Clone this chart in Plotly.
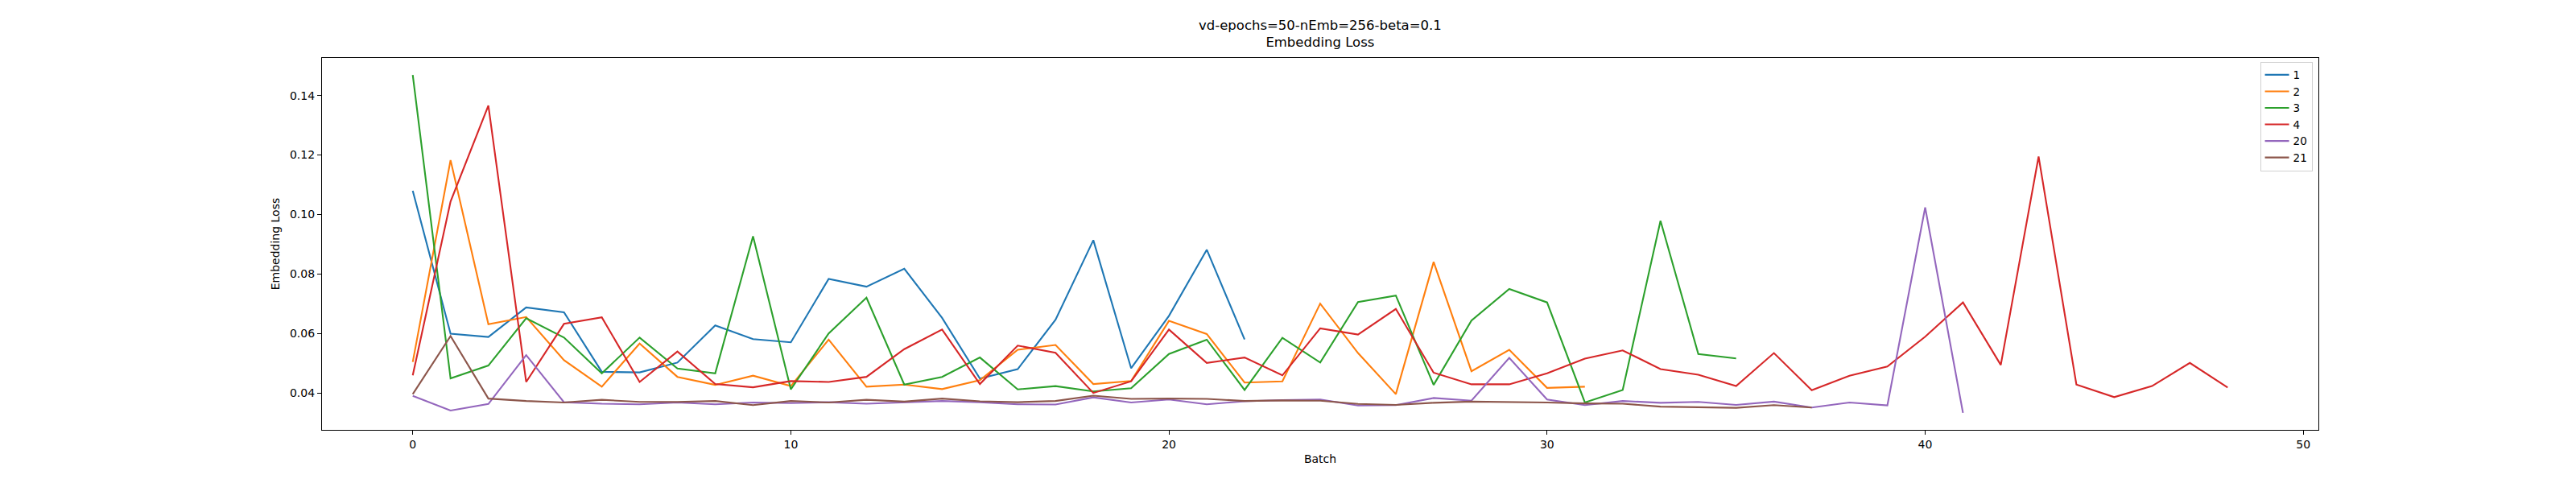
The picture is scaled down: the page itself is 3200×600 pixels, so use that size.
import plotly.graph_objects as go

# Embedding loss per batch, one list per run
labels = ["1", "2", "3", "4", "20", "21"]
colors = ["#1f77b4", "#ff7f0e", "#2ca02c", "#d62728", "#9467bd", "#8c564b"]

loss_1 = [0.108, 0.060, 0.0589, 0.0688, 0.0672, 0.0472, 0.0470, 0.0503, 0.0628, 0.0582,
          0.0571, 0.0784, 0.0758, 0.0818, 0.0653, 0.0449, 0.0481, 0.0647, 0.0914, 0.0484,
          0.0660, 0.0882, 0.0581]
loss_2 = [0.0505, 0.1183, 0.0632, 0.0656, 0.0511, 0.0422, 0.0567, 0.0455, 0.0428, 0.0459,
          0.0424, 0.0580, 0.0422, 0.0429, 0.0414, 0.0444, 0.0546, 0.0562, 0.0431, 0.0441,
          0.0643, 0.0599, 0.0436, 0.0440, 0.0701, 0.0535, 0.0397, 0.0841, 0.0474, 0.0546,
          0.0418, 0.0422]
loss_3 = [0.1469, 0.0450, 0.0493, 0.0652, 0.0587, 0.0467, 0.0587, 0.0483, 0.0467, 0.0927,
          0.0413, 0.0601, 0.0721, 0.0429, 0.0455, 0.0520, 0.0413, 0.0424, 0.0406, 0.0417,
          0.0532, 0.0580, 0.0411, 0.0586, 0.0503, 0.0706, 0.0728, 0.0428, 0.0644, 0.0750,
          0.0705, 0.0369, 0.0411, 0.0979, 0.0532, 0.0517]
loss_4 = [0.0460, 0.1044, 0.1366, 0.0438, 0.0633, 0.0655, 0.0438, 0.0540, 0.0431, 0.0420,
          0.0441, 0.0438, 0.0455, 0.0548, 0.0614, 0.0431, 0.0560, 0.0536, 0.0401, 0.0440,
          0.0614, 0.0502, 0.0520, 0.0460, 0.0618, 0.0597, 0.0683, 0.0469, 0.0430, 0.0430,
          0.0467, 0.0516, 0.0544, 0.0481, 0.0462, 0.0424, 0.0535, 0.0410, 0.0459, 0.0490,
          0.0590, 0.0705, 0.0495, 0.1195, 0.0429, 0.0387, 0.0424, 0.0502, 0.0419]
loss_20 = [0.0391, 0.0342, 0.0364, 0.0528, 0.0370, 0.0365, 0.0363, 0.0369, 0.0363, 0.0369,
           0.0367, 0.0370, 0.0365, 0.0369, 0.0374, 0.0370, 0.0363, 0.0362, 0.0386, 0.0369,
           0.0379, 0.0363, 0.0373, 0.0377, 0.0379, 0.0359, 0.0360, 0.0384, 0.0375, 0.0519,
           0.0379, 0.0360, 0.0374, 0.0368, 0.0371, 0.0361, 0.0372, 0.0352, 0.0369, 0.0359,
           0.1024, 0.0334]
loss_21 = [0.0397, 0.0592, 0.0382, 0.0374, 0.0369, 0.0378, 0.0371, 0.0371, 0.0374, 0.0360,
           0.0374, 0.0369, 0.0378, 0.0372, 0.0382, 0.0373, 0.0370, 0.0374, 0.0392, 0.0381,
           0.0382, 0.0381, 0.0374, 0.0376, 0.0375, 0.0364, 0.0361, 0.0368, 0.0372, 0.0371,
           0.0369, 0.0366, 0.0365, 0.0355, 0.0354, 0.0351, 0.0360, 0.0352]

series = [loss_1, loss_2, loss_3, loss_4, loss_20, loss_21]

fig = go.Figure()
for name, color, ys in zip(labels, colors, series):
    fig.add_trace(go.Scatter(
        x=list(range(len(ys))),
        y=ys,
        mode="lines",
        name=name,
        line=dict(color=color, width=2.1),
    ))

axis_style = dict(
    showline=True,
    linecolor="black",
    linewidth=1.3,
    mirror=True,
    ticks="outside",
    ticklen=5,
    tickwidth=1.1,
    tickcolor="black",
    showgrid=False,
    zeroline=False,
    tickfont=dict(size=14, color="black"),
)

# page body adds ~8px margin, so the plot margins are shifted to compensate
fig.update_layout(
    width=3200,
    height=600,
    paper_bgcolor="white",
    plot_bgcolor="white",
    font=dict(family="DejaVu Sans", color="black"),
    margin=dict(l=392, r=328, t=64, b=74),
    xaxis=dict(
        axis_style,
        range=[-2.4, 50.4],
        tickvals=[0, 10, 20, 30, 40, 50],
        title=dict(text="Batch", font=dict(size=14), standoff=6),
    ),
    yaxis=dict(
        axis_style,
        range=[0.0277, 0.1526],
        tickvals=[0.04, 0.06, 0.08, 0.10, 0.12, 0.14],
        tickformat=".2f",
        title=dict(text="Embedding Loss", font=dict(size=14), standoff=8),
    ),
    legend=dict(
        x=0.997,
        y=0.99,
        xanchor="right",
        yanchor="top",
        bgcolor="rgba(255,255,255,0.8)",
        bordercolor="#d0d0d0",
        borderwidth=1,
        font=dict(size=13.5, color="black"),
        tracegroupgap=0,
        itemwidth=30,
    ),
)

fig.add_annotation(
    text="vd-epochs=50-nEmb=256-beta=0.1<br>Embedding Loss",
    xref="paper", yref="paper",
    x=0.5, y=1,
    xanchor="center", yanchor="bottom",
    yshift=8,
    showarrow=False,
    font=dict(size=16.5, color="black"),
)

fig.write_html("out.html")
